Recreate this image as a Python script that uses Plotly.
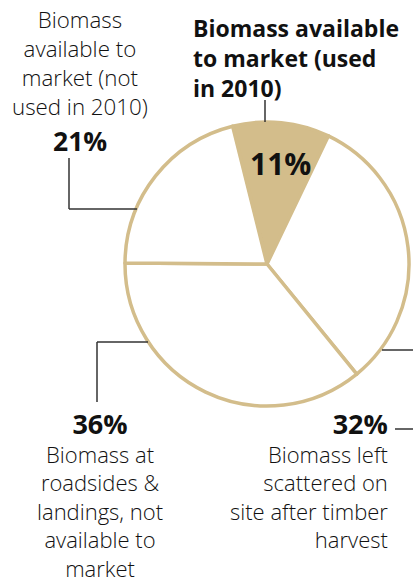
import plotly.graph_objects as go

# Data
labels = [
    "Biomass available to market (used in 2010)",
    "Biomass left scattered on site after timber harvest",
    "Biomass at roadsides & landings, not available to market",
    "Biomass available to market (not used in 2010)",
]
values = [11, 32, 36, 21]
label_lines = [
    ["Biomass available", "to market (used", "in 2010)"],
    ["Biomass left", "scattered on", "site after timber", "harvest"],
    ["Biomass at", "roadsides &", "landings, not", "available to", "market"],
    ["Biomass", "available to", "market (not", "used in 2010)"],
]

W, H = 413, 586
TAN = "#D3BD8B"
INK = "#111111"
LINE = "#333333"

def px(x):
    return x / W

def py(y):
    return 1 - y / H

cx, cy, r = 267, 264, 142

fig = go.Figure()
fig.add_trace(go.Pie(
    labels=labels,
    values=values,
    sort=False,
    direction="clockwise",
    rotation=-14,
    marker=dict(colors=[TAN, "white", "white", "white"],
                line=dict(color=TAN, width=3.5)),
    textinfo="none",
    hoverinfo="label+percent",
    showlegend=False,
    domain=dict(x=[px(cx - r), px(cx + r)], y=[py(cy + r), py(cy - r)]),
))

FONT = "Open Sans"
FS = 22.3
body = dict(size=FS, color=INK, family=FONT, weight=300)
body_low = dict(size=22, color=INK, family=FONT, weight=300)


def pct(v):
    return f"<b><span style='font-size:27px'>{v}%</span></b>"


annotations = []
# 11% inside slice
annotations.append(dict(x=px(280), y=py(164), text=f"{values[0]}%",
                        font=dict(size=30, color=INK, family=FONT, weight=700),
                        showarrow=False, xanchor="center", yanchor="middle"))
# Title block (slice 0)
annotations.append(dict(x=px(191), y=py(10), text="<br>".join(label_lines[0]),
                        font=dict(size=23, color=INK, family=FONT, weight=700), align="left",
                        showarrow=False, xanchor="left", yanchor="top"))
# Top-left block (slice 3)
annotations.append(dict(x=px(80), y=py(2.5),
                        text="<br>".join(label_lines[3]),
                        font=body, align="center", borderpad=0,
                        showarrow=False, xanchor="center", yanchor="top"))
annotations.append(dict(x=px(80), y=py(141), text=f"{values[3]}%",
                        font=dict(size=26.5, color=INK, family=FONT, weight=700),
                        borderpad=0,
                        showarrow=False, xanchor="center", yanchor="middle"))
# Bottom-left block (slice 2)
annotations.append(dict(x=px(99.5), y=py(404),
                        text=pct(values[2]) + "<br>" + "<br>".join(label_lines[2]),
                        font=body_low, align="center", borderpad=0,
                        showarrow=False, xanchor="center", yanchor="top"))
# Bottom-right block (slice 1)
annotations.append(dict(x=px(389), y=py(404),
                        text=pct(values[1]) + "<br>" + "<br>".join(label_lines[1]),
                        font=body_low, align="right", borderpad=0,
                        showarrow=False, xanchor="right", yanchor="top"))


def seg(x0, y0, x1, y1):
    return dict(type="line", xref="paper", yref="paper",
                x0=px(x0), y0=py(y0), x1=px(x1), y1=py(y1),
                line=dict(color=LINE, width=1.5))


shapes = [
    seg(265, 100, 265, 122),
    seg(69, 158, 69, 209), seg(69, 209, 137, 209),
    seg(97, 402, 97, 342), seg(97, 342, 148, 342),
    seg(382, 350, 413, 350), seg(395, 429, 413, 429),
]

fig.update_layout(
    width=W, height=H,
    margin=dict(l=0, r=0, t=0, b=0),
    paper_bgcolor="white", plot_bgcolor="white",
    annotations=annotations, shapes=shapes,
    showlegend=False,
)

fig.write_html("out.html")
